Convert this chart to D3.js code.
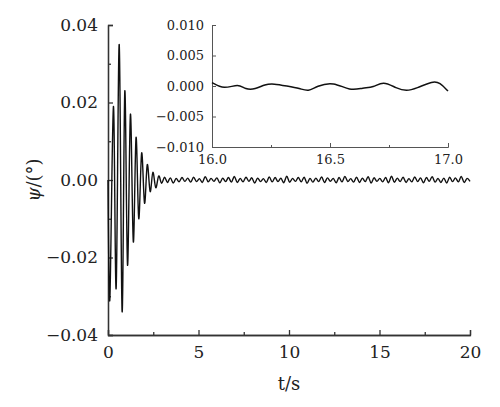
<!DOCTYPE html>
<html><head><meta charset="utf-8">
<script src="https://cdn.jsdelivr.net/npm/d3@7"></script>
<style>body{margin:0;background:#fff} text{font-family:"DejaVu Serif",serif}</style>
</head><body>
<svg id="chart" width="500" height="407"></svg>
<script>
// main series: decaying oscillation (turning points), then small residual wiggle
const mainT = [0, 0.1, 0.3, 0.45, 0.62, 0.78, 0.93, 1.08, 1.24, 1.40, 1.55, 1.70, 1.86, 2.02, 2.17, 2.33, 2.48, 2.64];
const mainV = [0, -0.031, 0.019, -0.028, 0.035, -0.034, 0.023, -0.022, 0.017, -0.016, 0.011, -0.010, 0.007, -0.006, 0.004, -0.003, 0.002, -0.002];
// residual amplitudes (x0.001), one per half cycle after 2.64 s
const resid = [1.5,-1.2,1.0,-0.9,0.8,-1.1,0.6,-0.7,0.9,-0.5,0.7,-0.8,1.0,-0.6,0.5,-0.9,1.2,-0.7,0.6,-0.5,
  0.8,-1.0,0.7,-0.6,0.9,-0.8,1.3,-0.9,0.6,-0.7,1.0,-0.5,0.8,-1.1,0.7,-0.6,0.5,-0.9,1.1,-0.7,
  0.9,-0.6,0.7,-1.0,1.4,-0.8,0.6,-0.5,0.9,-0.7,1.0,-1.2,0.6,-0.8,0.7,-0.6,1.1,-0.9,0.8,-0.5,
  0.6,-1.0,0.9,-0.7,1.3,-0.6,0.5,-0.8,1.0,-0.9,0.7,-0.6,1.2,-1.1,0.8,-0.5,0.6,-0.7,0.9,-1.0,
  1.4,-0.8,0.7,-0.6,1.0,-0.9,0.5,-0.7,1.1,-0.6,0.8,-1.0,0.9,-0.5,1.2,-0.8,0.6,-0.9,0.7,-1.1,
  1.0,-0.6,0.8,-0.7,1.3,-0.9,0.6,-0.5];
const residStep = (20 - 2.64) / resid.length;

// inset series 16–17 s
const insetT = [16.0,16.05,16.113,16.141,16.183,16.225,16.261,16.317,16.373,16.408,16.444,16.514,16.585,16.641,16.683,16.725,16.782,16.824,16.866,16.937,16.965,17.0];
const insetV = [0.00056,-0.00056,0.00039,-0.00056,-0.00056,0.00028,0.00039,0,-0.00039,-0.00094,0,0.00072,-0.00083,-0.00028,-0.00028,0.00083,-0.00039,-0.00083,-0.00039,0.00083,0.00056,-0.00083];

const mainTicksX = [0, 5, 10, 15, 20];
const mainTicksY = [-0.04, -0.02, 0, 0.02, 0.04];
const insetTicksX = [16.0, 16.5, 17.0];
const insetTicksY = [-0.010, -0.005, 0, 0.005, 0.010];

const svg = d3.select("#chart");
const minus = s => s.replace("-", "\u2212");

let data = mainT.map((t, i) => [t, mainV[i]]);
resid.forEach((r, i) => data.push([2.64 + (i + 1) * residStep, r * 0.0007]));

// main axes
const x = d3.scaleLinear().domain([0, 20]).range([108, 470]);
const y = d3.scaleLinear().domain([-0.04, 0.04]).range([335, 25]);

const main = svg.append("g");
main.append("g").attr("transform", "translate(0,335)")
    .call(d3.axisBottom(x).tickValues(mainTicksX).tickFormat(d3.format("d")).tickSizeOuter(0).tickSize(-5))
    .call(g => g.selectAll("text").attr("dy", "1.2em"));
main.append("g").attr("transform", "translate(108,0)")
    .call(d3.axisLeft(y).tickValues(mainTicksY).tickFormat(d => d === 0 ? "0.00" : minus(d3.format(".2f")(d))).tickSizeOuter(0).tickSize(-5))
    .call(g => g.selectAll("text").attr("x", -10));
// minor ticks
main.append("g").attr("transform", "translate(0,335)")
    .call(d3.axisBottom(x).tickValues([2.5, 7.5, 12.5, 17.5]).tickFormat("").tickSize(-3).tickSizeOuter(0));
main.append("g").attr("transform", "translate(108,0)")
    .call(d3.axisLeft(y).tickValues([-0.03, -0.01, 0.01, 0.03]).tickFormat("").tickSize(-3).tickSizeOuter(0));

main.selectAll("g").attr("font-family", null);
main.selectAll("text").style("font-size", "17px").attr("fill", "#222");
main.selectAll(".domain, .tick line").attr("stroke", "#333").attr("stroke-width", 1.3);

main.append("path").datum(data)
    .attr("fill", "none").attr("stroke", "#111").attr("stroke-width", 1.4)
    .attr("d", d3.line().x(d => x(d[0])).y(d => y(d[1])).curve(d3.curveCardinal));

svg.append("text").attr("x", 289).attr("y", 390).attr("text-anchor", "middle")
    .style("font-size", "18px").attr("fill", "#222").text("t/s");
svg.append("text").attr("transform", "translate(40,180) rotate(-90)").attr("text-anchor", "middle")
    .style("font-size", "18px").attr("fill", "#222")
    .html("<tspan font-style='italic'>ψ</tspan>/(°)");

// inset
const ix = d3.scaleLinear().domain([16, 17]).range([212, 448]);
const iy = d3.scaleLinear().domain([-0.01, 0.01]).range([147, 25]);
const ins = svg.append("g");
ins.append("g").attr("transform", "translate(0,147)")
    .call(d3.axisBottom(ix).tickValues(insetTicksX).tickFormat(d3.format(".1f")).tickSize(-4).tickSizeOuter(0))
    .call(g => g.selectAll("text").attr("dy", "1.1em"));
ins.append("g").attr("transform", "translate(212,0)")
    .call(d3.axisLeft(iy).tickValues(insetTicksY).tickFormat(d => d === 0 ? "0.000" : minus(d3.format(".3f")(d))).tickSize(-4).tickSizeOuter(0))
    .call(g => g.selectAll("text").attr("x", -8));
ins.append("g").attr("transform", "translate(0,147)")
    .call(d3.axisBottom(ix).tickValues([16.25, 16.75]).tickFormat("").tickSize(-2).tickSizeOuter(0));
ins.selectAll("g").attr("font-family", null);
ins.selectAll("text").style("font-size", "13px").attr("fill", "#222");
ins.selectAll(".domain, .tick line").attr("stroke", "#555").attr("stroke-width", 1);
ins.append("path").datum(insetT.map((t, i) => [t, insetV[i]]))
    .attr("fill", "none").attr("stroke", "#111").attr("stroke-width", 1.5)
    .attr("d", d3.line().x(d => ix(d[0])).y(d => iy(d[1])).curve(d3.curveBasis));
</script>
</body></html>
